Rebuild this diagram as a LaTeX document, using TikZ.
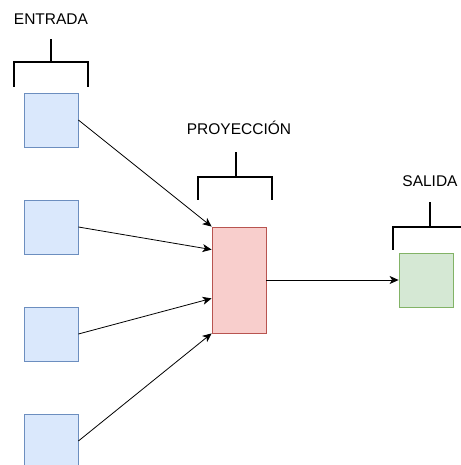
\documentclass[tikz,border=0pt]{standalone}
\usepackage{fontspec}
\setmainfont{Liberation Sans}
\usetikzlibrary{arrows.meta}
\definecolor{inFill}{HTML}{DAE8FC}
\definecolor{inLine}{HTML}{6C8EBF}
\definecolor{prFill}{HTML}{F8CECC}
\definecolor{prLine}{HTML}{B85450}
\definecolor{outFill}{HTML}{D5E8D4}
\definecolor{outLine}{HTML}{82B366}
\tikzset{
  unit/.style={draw, line width=0.8pt, minimum width=54pt, minimum height=54pt, inner sep=0pt},
  inbox/.style={unit, fill=inFill, draw=inLine},
  projbox/.style={unit, fill=prFill, draw=prLine, minimum height=106pt},
  outbox/.style={unit, fill=outFill, draw=outLine},
  layerlabel/.style={font=\fontsize{15.5}{17}\selectfont, inner sep=0pt},
  bracket/.style={line width=2pt, line cap=rect},
  link/.style={line width=0.8pt, -{Stealth[length=9pt, width=8pt, inset=2.5pt]}},
}
\begin{document}
\begin{tikzpicture}[x=1pt, y=-1pt]
  \useasboundingbox (0,0) rectangle (460,465);

  % input column
  \node[inbox] (i1) at (51,120) {};
  \node[inbox] (i2) at (51,227) {};
  \node[inbox] (i3) at (51,334) {};
  \node[inbox] (i4) at (51,441) {};

  % hidden projection layer and output
  \node[projbox] (p) at (239,280) {};
  \node[outbox] (o) at (426,280) {};

  % layer labels
  \node[layerlabel] (tin) at (51,19) {ENTRADA};
  \node[layerlabel] (tpr) at (239,128) {PROYECCIÓN};
  \node[layerlabel] (tout) at (430,181) {SALIDA};

  % brackets over each layer
  \draw[bracket] (14,86) -- (14,62) -- (88,62) -- (88,86);
  \draw[bracket] (51,62) -- (51,40);
  \draw[bracket] (198,199) -- (198,177) -- (272,177) -- (272,199);
  \draw[bracket] (236,177) -- (236,153);
  \draw[bracket] (393,249) -- (393,227) -- (467,227) -- (467,249);
  \draw[bracket] (430,227) -- (430,203);

  % connections
  \draw[link] (i1.east) -- (p.north west);
  \draw[link] (i2.east) -- ([yshift=-23pt]p.north west);
  \draw[link] (i3.east) -- ([yshift=35pt]p.south west);
  \draw[link] (i4.east) -- (p.south west);
  \draw[link] (p.east) -- (o.west);
\end{tikzpicture}
\end{document}
